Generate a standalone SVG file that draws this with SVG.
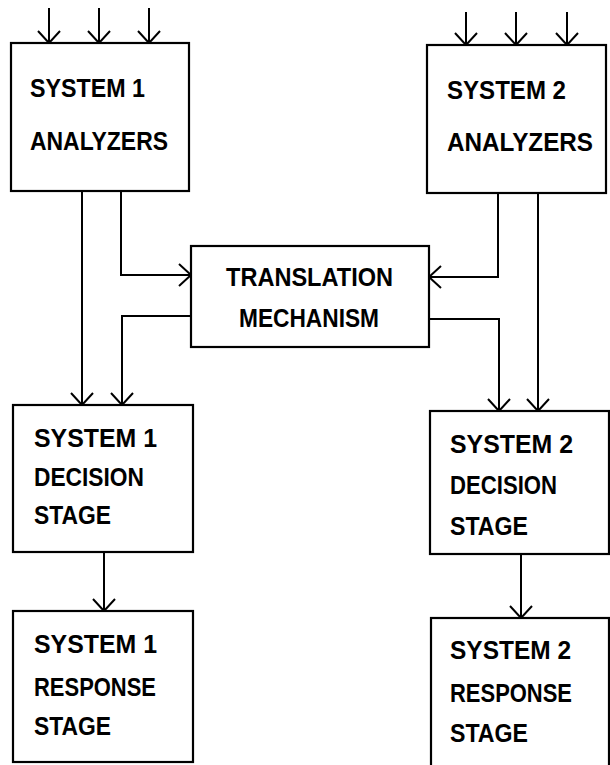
<svg xmlns="http://www.w3.org/2000/svg" width="610" height="765" viewBox="0 0 610 765">
<style>
  .box { fill: #fff; stroke: #000; stroke-width: 2.2; }
  .t { font-family: "Liberation Sans", Arial, sans-serif; font-weight: bold; font-size: 25.5px; fill: #000; }
  .c { fill: none; stroke: #000; stroke-width: 2; }
</style>
<defs>
  <marker id="ah" markerUnits="userSpaceOnUse" markerWidth="30" markerHeight="30" viewBox="-15 -15 30 30" refX="0" refY="0" orient="auto">
    <path d="M-12,-11 L0,0 L-12,11" fill="none" stroke="#000" stroke-width="2"/>
  </marker>
</defs>
<rect width="610" height="765" fill="#fff"/>

<g id="connectors">
  <line class="c" x1="49" y1="8" x2="49" y2="43" marker-end="url(#ah)"/>
  <line class="c" x1="99" y1="8" x2="99" y2="43" marker-end="url(#ah)"/>
  <line class="c" x1="149" y1="8" x2="149" y2="43" marker-end="url(#ah)"/>
  <line class="c" x1="466" y1="12" x2="466" y2="45" marker-end="url(#ah)"/>
  <line class="c" x1="516" y1="12" x2="516" y2="45" marker-end="url(#ah)"/>
  <line class="c" x1="567" y1="12" x2="567" y2="45" marker-end="url(#ah)"/>
  <line class="c" x1="82" y1="191" x2="82" y2="405" marker-end="url(#ah)"/>
  <path class="c" d="M121,191 V275 H191" marker-end="url(#ah)"/>
  <path class="c" d="M498,193 V277 H429" marker-end="url(#ah)"/>
  <line class="c" x1="538" y1="193" x2="538" y2="411" marker-end="url(#ah)"/>
  <path class="c" d="M191,316 H122 V405" marker-end="url(#ah)"/>
  <path class="c" d="M429,319 H499 V411" marker-end="url(#ah)"/>
  <line class="c" x1="104" y1="552" x2="104" y2="611" marker-end="url(#ah)"/>
  <line class="c" x1="521" y1="554" x2="521" y2="618" marker-end="url(#ah)"/>
</g>

<g id="s1-analyzers">
  <rect class="box" x="11" y="43" width="178" height="148"/>
  <text class="t" x="30" y="97" textLength="115" lengthAdjust="spacingAndGlyphs">SYSTEM 1</text>
  <text class="t" x="30" y="150" textLength="138" lengthAdjust="spacingAndGlyphs">ANALYZERS</text>
</g>

<g id="s2-analyzers">
  <rect class="box" x="427" y="45" width="179" height="148"/>
  <text class="t" x="447" y="99" textLength="119" lengthAdjust="spacingAndGlyphs">SYSTEM 2</text>
  <text class="t" x="447" y="151" textLength="146" lengthAdjust="spacingAndGlyphs">ANALYZERS</text>
</g>

<g id="translation">
  <rect class="box" x="191" y="246" width="238" height="101"/>
  <text class="t" x="226" y="286" textLength="167" lengthAdjust="spacingAndGlyphs">TRANSLATION</text>
  <text class="t" x="239" y="327" textLength="140" lengthAdjust="spacingAndGlyphs">MECHANISM</text>
</g>

<g id="s1-decision">
  <rect class="box" x="13" y="405" width="180" height="147"/>
  <text class="t" x="34" y="447" textLength="123" lengthAdjust="spacingAndGlyphs">SYSTEM 1</text>
  <text class="t" x="34" y="486" textLength="110" lengthAdjust="spacingAndGlyphs">DECISION</text>
  <text class="t" x="34" y="524" textLength="77" lengthAdjust="spacingAndGlyphs">STAGE</text>
</g>

<g id="s1-response">
  <rect class="box" x="13" y="611" width="180" height="151"/>
  <text class="t" x="34" y="653" textLength="123" lengthAdjust="spacingAndGlyphs">SYSTEM 1</text>
  <text class="t" x="34" y="696" textLength="122" lengthAdjust="spacingAndGlyphs">RESPONSE</text>
  <text class="t" x="34" y="735" textLength="77" lengthAdjust="spacingAndGlyphs">STAGE</text>
</g>

<g id="s2-decision">
  <rect class="box" x="430" y="411" width="179" height="143"/>
  <text class="t" x="450" y="453" textLength="123" lengthAdjust="spacingAndGlyphs">SYSTEM 2</text>
  <text class="t" x="450" y="494" textLength="107" lengthAdjust="spacingAndGlyphs">DECISION</text>
  <text class="t" x="450" y="535" textLength="78" lengthAdjust="spacingAndGlyphs">STAGE</text>
</g>

<g id="s2-response">
  <rect class="box" x="431" y="618" width="178" height="152"/>
  <text class="t" x="450" y="659" textLength="121" lengthAdjust="spacingAndGlyphs">SYSTEM 2</text>
  <text class="t" x="450" y="702" textLength="122" lengthAdjust="spacingAndGlyphs">RESPONSE</text>
  <text class="t" x="450" y="742" textLength="78" lengthAdjust="spacingAndGlyphs">STAGE</text>
</g>
</svg>
